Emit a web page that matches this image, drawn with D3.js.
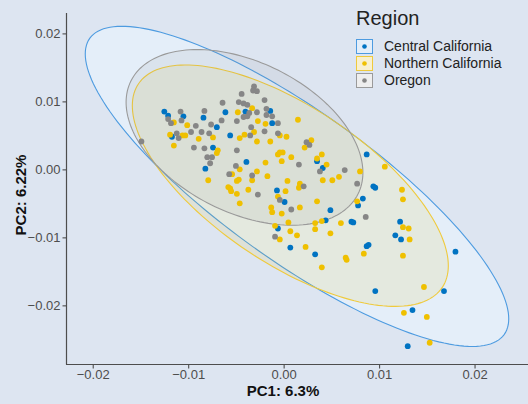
<!DOCTYPE html>
<html>
<head>
<meta charset="utf-8">
<script src="https://cdn.jsdelivr.net/npm/d3@7"></script>
<style>
  body { margin: 0; background: #dde5f1; }
  svg { display: block; font-family: "Liberation Sans", Arial, sans-serif; }
</style>
</head>
<body>
<svg id="chart" width="528" height="404"></svg>
<script>
// regions, colours (ggsci jco palette)
var regions = ["Central California", "Northern California", "Oregon"];
var colors = ["#0073c2", "#efc000", "#868686"];

// PC scores
var centralPC1 = [-0.0125, -0.0121, -0.0105, -0.0084, -0.0070, -0.0117, -0.0074, -0.0061, -0.0040, -0.0012,
    -0.0056, -0.0014, -0.0039, -0.0082, 0.0035, 0.0041, -0.0007, 0.0001, -0.0006, 0.0087,
    0.0094, 0.0096, 0.0083, 0.0078, 0.0049, 0.0044, 0.0071, 0.0073, 0.0122, 0.0117,
    0.0123, 0.0087, 0.0089, 0.0033, 0.0007, 0.0180, 0.0096, 0.0168, 0.0135, 0.0130];
var centralPC2 = [0.0085, 0.0079, 0.0078, 0.0076, 0.0062, 0.0048, 0.0032, 0.0084, 0.0085, 0.0068,
    0.0050, 0.0086, 0.0011, 0.0001, 0.0012, 0.0002, -0.0031, -0.0048, -0.0087, 0.0022,
    -0.0025, -0.0027, -0.0043, -0.0053, -0.0060, -0.0075, -0.0077, -0.0078, -0.0077, -0.0097,
    -0.0103, -0.0113, -0.0111, -0.0125, -0.0115, -0.0121, -0.0179, -0.0179, -0.0207, -0.0260];

var northernPC1 = [-0.0115, -0.0101, -0.0089, -0.0103, -0.0106, -0.0119, -0.0115, -0.0074, -0.0069, -0.0070,
    -0.0033, -0.0048, -0.0027, -0.0019, 0.0015, -0.0031, -0.0041, -0.0046, -0.0028, -0.0014,
    -0.0004, 0.0003, 0.0029, 0.0040, -0.0004, -0.0001, -0.0006, 0.0008, 0.0022, 0.0035,
    -0.0046, -0.0054, -0.0047, -0.0049, -0.0028, -0.0033, -0.0019, -0.0017, -0.0002, 0.0041,
    -0.0058, -0.0056, -0.0055, -0.0049, -0.0037, 0.0004, 0.0017, 0.0016, 0.0002, -0.0006,
    -0.0046, -0.0013, -0.0012, 0.0017, -0.0002, 0.0035, 0.0040, 0.0033, 0.0005, -0.0009,
    0.0007, 0.0014, 0.0033, 0.0045, 0.0106, 0.0080, 0.0058, 0.0051, 0.0124, 0.0125,
    0.0077, 0.0060, 0.0049, 0.0125, 0.0131, 0.0132, 0.0125, 0.0084, 0.0023, -0.0004,
    0.0065, 0.0066, 0.0040, 0.0147, 0.0126, 0.0150, 0.0153, -0.0079];
var northernPC2 = [0.0069, 0.0065, 0.0045, 0.0050, 0.0050, 0.0051, 0.0035, 0.0047, 0.0028, 0.0024,
    0.0090, 0.0084, 0.0071, 0.0067, 0.0073, 0.0055, 0.0051, 0.0046, 0.0041, 0.0041,
    0.0050, 0.0048, 0.0043, 0.0022, 0.0025, 0.0025, 0.0022, 0.0018, 0.0032, 0.0016,
    0.0000, -0.0007, -0.0015, -0.0017, -0.0003, -0.0016, 0.0010, -0.0010, 0.0012, -0.0016,
    -0.0026, -0.0028, -0.0032, -0.0036, -0.0030, -0.0017, -0.0021, -0.0027, -0.0032, -0.0040,
    -0.0050, -0.0056, -0.0063, -0.0056, -0.0065, -0.0047, -0.0076, -0.0079, -0.0078, -0.0083,
    -0.0091, -0.0097, -0.0088, 0.0007, 0.0004, -0.0003, -0.0011, -0.0016, -0.0030, -0.0044,
    -0.0047, -0.0079, -0.0094, -0.0085, -0.0087, -0.0103, -0.0127, -0.0124, -0.0114, -0.0103,
    -0.0130, -0.0133, -0.0144, -0.0173, -0.0211, -0.0217, -0.0255, -0.0016];

var oregonPC1 = [-0.0108, -0.0121, -0.0107, -0.0118, -0.0083, -0.0092, -0.0076, -0.0064, -0.0065, -0.0086,
    -0.0097, -0.0078, -0.0112, -0.0110, -0.0149, -0.0094, -0.0083, -0.0080, -0.0075, -0.0077,
    -0.0031, -0.0032, -0.0028, -0.0044, -0.0047, -0.0042, -0.0038, -0.0036, -0.0028, -0.0042,
    -0.0038, -0.0020, -0.0018, -0.0018, -0.0012, -0.0049, -0.0006, -0.0034, -0.0020, -0.0035,
    -0.0006, 0.0024, 0.0027, -0.0049, -0.0050, -0.0057, -0.0033, 0.0016, 0.0038, -0.0027,
    0.0021, -0.0004, 0.0008, -0.0009, 0.0064, 0.0077, 0.0086];
var oregonPC2 = [0.0085, 0.0074, 0.0072, 0.0068, 0.0086, 0.0064, 0.0066, 0.0098, 0.0072, 0.0055,
    0.0055, 0.0053, 0.0053, 0.0046, 0.0041, 0.0032, 0.0031, 0.0018, 0.0018, 0.0009,
    0.0122, 0.0116, 0.0115, 0.0111, 0.0099, 0.0097, 0.0095, 0.0083, 0.0084, 0.0077,
    0.0078, 0.0102, 0.0089, 0.0080, 0.0078, 0.0071, 0.0068, 0.0062, 0.0056, 0.0050,
    0.0053, 0.0040, 0.0036, 0.0028, 0.0005, -0.0007, -0.0009, 0.0007, -0.0003, -0.0037,
    -0.0025, -0.0045, -0.0059, -0.0099, -0.0001, -0.0021, -0.0070];

// 95% ellipses: centre and half-axis vectors (PC1, PC2)
var ellipseCenter = [[0.0014, -0.0025], [0.0007, -0.0024], [-0.0041, 0.0047]];
var ellipseMajor = [[0.0217, -0.0218], [0.0159, -0.0150], [0.0119, -0.0083]];
var ellipseMinor = [[-0.0046, -0.0089], [-0.0046, -0.0095], [-0.0035, -0.0099]];

var xTicks = [-0.02, -0.01, 0.00, 0.01, 0.02];
var yTicks = [-0.02, -0.01, 0.00, 0.01, 0.02];

var svg = d3.select("#chart");

var x = d3.scaleLinear().domain([-0.0228, 0.0256]).range([66, 528]);
var y = d3.scaleLinear().domain([-0.0287, 0.0230]).range([364.5, 13]);

// ellipse fills
var ellipseFill = ["#e4eef9", "#efc000", "#868686"];
var ellipseFillOpacity = [1, 0.1, 0.1];
var ellipseStroke = ["#4d9be0", "#efca3c", "#9a9a9a"];

var ellipseLine = d3.line()
    .x(function(d) { return x(d[0]) })
    .y(function(d) { return y(d[1]) })
    .curve(d3.curveLinearClosed);

function ellipsePoints(i) {
    return d3.range(0, 360, 2).map(function(a) {
        var t = a * Math.PI / 180;
        return [ellipseCenter[i][0] + Math.cos(t) * ellipseMajor[i][0] + Math.sin(t) * ellipseMinor[i][0],
                ellipseCenter[i][1] + Math.cos(t) * ellipseMajor[i][1] + Math.sin(t) * ellipseMinor[i][1]];
    });
}

svg.append("g").selectAll("path")
    .data(regions)
    .enter().append("path")
    .attr("d", function(d, i) { return ellipseLine(ellipsePoints(i)) })
    .attr("fill", function(d, i) { return ellipseFill[i] })
    .attr("fill-opacity", function(d, i) { return ellipseFillOpacity[i] })
    .attr("stroke", function(d, i) { return ellipseStroke[i] })
    .attr("stroke-width", 1.1);

// points
var series = [[centralPC1, centralPC2], [northernPC1, northernPC2], [oregonPC1, oregonPC2]];
var points = [];
series.forEach(function(s, i) {
    s[0].forEach(function(v, j) { points.push({ pc1: v, pc2: s[1][j], g: i }) });
});

svg.append("g").selectAll("circle")
    .data(points)
    .enter().append("circle")
    .attr("cx", function(d) { return x(d.pc1) })
    .attr("cy", function(d) { return y(d.pc2) })
    .attr("r", 2.9)
    .attr("fill", function(d) { return colors[d.g] });

// axes
var xAxis = svg.append("g")
    .attr("transform", "translate(0,364.5)")
    .call(d3.axisBottom(x).tickValues(xTicks).tickSize(4).tickPadding(1)
        .tickFormat(d3.format(".2f")));
var yAxis = svg.append("g")
    .attr("transform", "translate(66.5,0)")
    .call(d3.axisLeft(y).tickValues(yTicks).tickSize(4).tickPadding(2)
        .tickFormat(d3.format(".2f")));

[xAxis, yAxis].forEach(function(a) {
    a.select(".domain").attr("stroke", "#4d4d4d").attr("stroke-width", 1.2);
    a.selectAll(".tick line").attr("stroke", "#4d4d4d").attr("stroke-width", 1.1);
    a.selectAll(".tick text").attr("fill", "#4d4d4d").style("font-size", "13px")
        .style("font-family", "'Liberation Sans', Arial, sans-serif");
});
xAxis.select(".domain").attr("d", "M66,0H528");
yAxis.select(".domain").attr("d", "M0,13V364.5");

svg.append("text")
    .attr("x", 283).attr("y", 396)
    .attr("text-anchor", "middle")
    .attr("font-weight", "bold").attr("font-size", 15).attr("fill", "#111")
    .text("PC1: 6.3%");

svg.append("text")
    .attr("transform", "translate(26,195) rotate(-90)")
    .attr("text-anchor", "middle")
    .attr("font-weight", "bold").attr("font-size", 15).attr("fill", "#111")
    .text("PC2: 6.22%");

// legend
var legend = svg.append("g").attr("transform", "translate(356,0)");
legend.append("text")
    .attr("x", 0).attr("y", 25)
    .attr("font-size", 20).attr("fill", "#222")
    .text("Region");

var keys = legend.selectAll(".key")
    .data(regions)
    .enter().append("g")
    .attr("class", "key")
    .attr("transform", function(d, i) { return "translate(0," + (46.5 + i * 17) + ")" });

keys.append("rect")
    .attr("x", 0.5).attr("y", -7).attr("width", 16).attr("height", 14)
    .attr("fill", function(d, i) { return i == 0 ? "#e4eef9" : i == 1 ? "#f8f0cf" : "#eeeeee" })
    .attr("stroke", function(d, i) { return ellipseStroke[i] })
    .attr("stroke-width", 1);
keys.append("circle")
    .attr("cx", 8.5).attr("cy", 0).attr("r", 2.3)
    .attr("fill", function(d, i) { return colors[i] });
keys.append("text")
    .attr("x", 28).attr("y", 0).attr("dy", "0.35em")
    .attr("font-size", 14).attr("fill", "#222")
    .text(function(d) { return d });
</script>
</body>
</html>
